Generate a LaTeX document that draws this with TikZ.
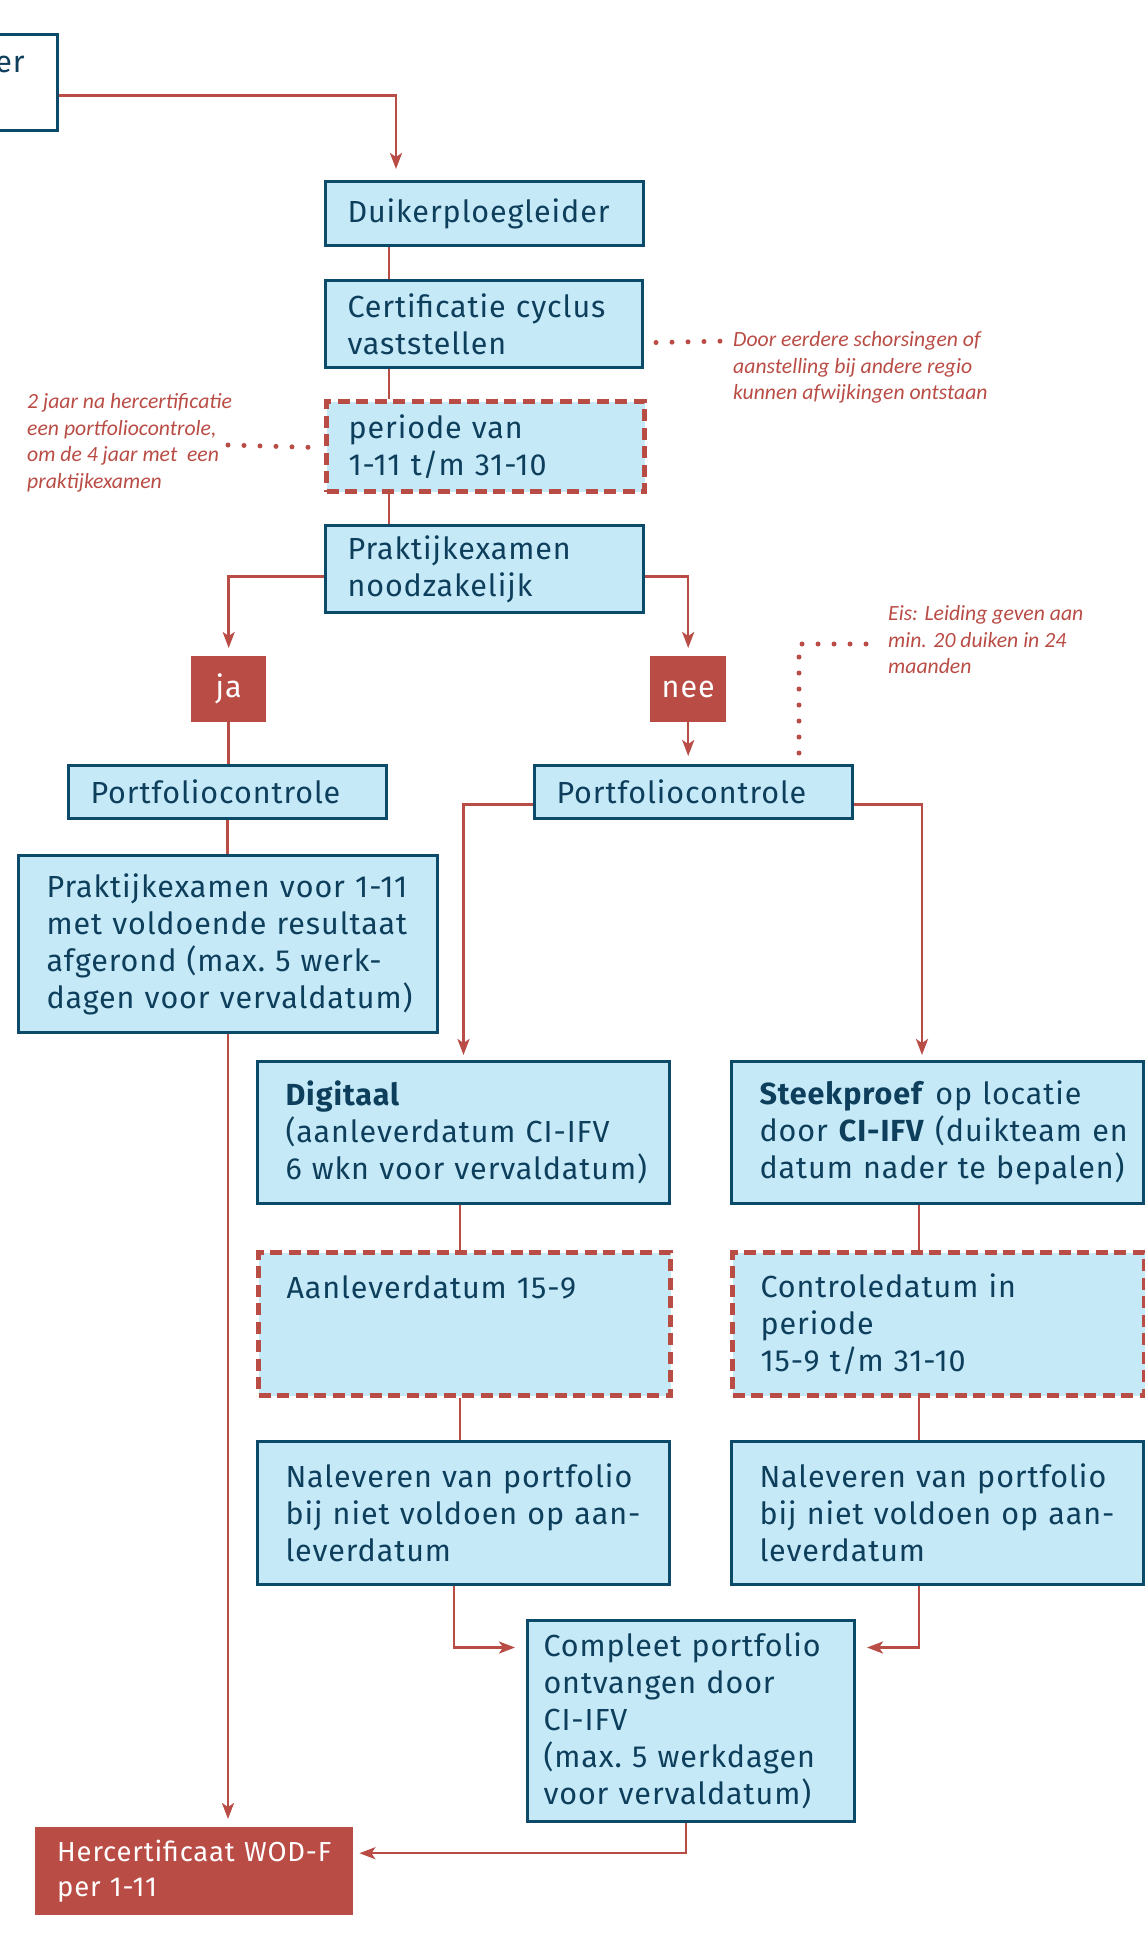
\documentclass[tikz,border=0pt]{standalone}
\usepackage{fontspec}
\setmainfont{Fira Sans}[LetterSpace=3]
\newfontfamily\notefam{Carlito}
\usetikzlibrary{arrows.meta,calc}
\definecolor{cFill}{HTML}{C6E9F8}
\definecolor{cBorder}{HTML}{0B4A68}
\definecolor{cText}{HTML}{0D3F5C}
\definecolor{cRed}{HTML}{B94C45}
\newcommand\boxfont{\fontsize{30.5}{37}\selectfont}
\newcommand\notefont{\notefam\itshape\fontsize{21.7}{26.5}\selectfont}
\tikzset{
  base/.style={anchor=north west, align=left, inner xsep=22pt, inner ysep=0pt,
    text=cText, font=\boxfont, fill=cFill,
    execute at begin node={\hyphenpenalty=10000 \exhyphenpenalty=10000 \hbadness=10000 \hfuzz=200pt}},
  bbox/.style={base, draw=cBorder, line width=3pt},
  dbox/.style={base, draw=cRed, line width=5pt, dash pattern=on 12pt off 6.5pt},
  rbox/.style={base, fill=cRed, text=white},
  conn/.style={draw=cRed, line width=2.5pt},
  arr/.style={conn, -{Stealth[length=16pt,width=12pt,inset=4pt]}, shorten >=8pt},
  dots/.style={draw=cRed, line width=5pt, line cap=round, dash pattern=on 0pt off 16pt},
  note/.style={anchor=west, align=left, text=cRed, font=\notefont, inner sep=0pt}
}
\begin{document}
\begin{tikzpicture}[x=1pt,y=-1pt]
\useasboundingbox (0,0) rectangle (1144,1933);
% top partial box
\node[draw=cBorder, line width=3pt, fill=white, minimum width=200pt, minimum height=96pt,
  anchor=north east, inner sep=0pt] (er) at (59,33) {};
\node[anchor=base east, text=cText, font=\boxfont, inner sep=0pt] (ertext) at (25,72) {er};

\node[bbox, text width=274pt, minimum height=64pt] (duiker) at (324,180) {Duikerploegleider};
\node[bbox, text width=273pt, minimum height=87pt] (cert) at (324,279) {Certificatie~cyclus\\vaststellen};
\node[dbox, text width=274pt, minimum height=90pt] (periode) at (324,399) {periode~van\\1-11~t/m~31-10};
\node[bbox, text width=274pt, minimum height=87pt] (prakt) at (324,524) {Praktijkexamen\\noodzakelijk};
\node[rbox, inner xsep=0pt, align=center, minimum width=75pt, minimum height=66pt] (ja) at (191,656) {ja};
\node[rbox, inner xsep=0pt, align=center, minimum width=76pt, minimum height=66pt] (nee) at (650,656) {nee};
\node[bbox, text width=274pt, minimum height=53pt] (pcL) at (67,764) {Portfoliocontrole};
\node[bbox, text width=274pt, minimum height=53pt] (pcR) at (533,764) {Portfoliocontrole};
\node[bbox, inner xsep=28pt, text width=363pt, minimum height=177pt] (pexam) at (17,854)
  {Praktijkexamen~voor~1-11\\met~voldoende~resultaat\\afgerond~(max.~5~werk-\\dagen~voor~vervaldatum)};
\node[bbox, inner xsep=28pt, text width=356pt, minimum height=142pt] (dig) at (256,1060)
  {\textbf{Digitaal}\\(aanleverdatum~CI-IFV\\6~wkn~voor~vervaldatum)};
\node[bbox, inner xsep=28pt, text width=356pt, minimum height=142pt] (steek) at (730,1060)
  {\textbf{Steekproef}~op~locatie\\door~\textbf{CI-IFV}~(duikteam~en\\datum~nader~te~bepalen)};
\node[dbox, inner xsep=28pt, text width=356pt, minimum height=143pt] (aanl) at (256,1250)
  {Aanleverdatum~15-9\\\mbox{}\\\mbox{}};
\node[dbox, inner xsep=28pt, text width=356pt, minimum height=143pt] (contr) at (730,1250)
  {Controledatum~in\\periode\\15-9~t/m~31-10};
\node[bbox, inner xsep=28pt, text width=356pt, minimum height=143pt] (nalL) at (256,1440)
  {Naleveren~van~portfolio\\bij~niet~voldoen~op~aan-\\leverdatum};
\node[bbox, inner xsep=28pt, text width=356pt, minimum height=143pt] (nalR) at (730,1440)
  {Naleveren~van~portfolio\\bij~niet~voldoen~op~aan-\\leverdatum};
\node[bbox, inner xsep=16pt, text width=295pt, minimum height=201pt] (compl) at (526,1619)
  {Compleet~portfolio\\ontvangen~door\\CI-IFV\\(max.~5~werkdagen\\voor~vervaldatum)};
\node[rbox, text width=274pt, minimum height=88pt, font=\fontsize{27.5}{34.5}\selectfont] (herc) at (35,1827)
  {Hercertificaat~WOD-F\\per~1-11};

% notes
\node[note] (note1) at (733,367.5) {Door eerdere schorsingen of\\aanstelling bij andere regio\\kunnen afwijkingen ontstaan};
\node[note] (note2) at (27,443) {2 jaar na hercertificatie\\een portfoliocontrole,\\om de 4 jaar met~ een\\praktijkexamen};
\node[note] (note3) at (888,640) {Eis: Leiding geven aan\\min. 20 duiken in 24\\maanden};

% connectors
\draw[arr, shorten >=11pt] ([yshift=-13pt]er.east) -| ([xshift=72pt]duiker.north west);
\draw[conn] ([xshift=65pt]duiker.south west) -- ([xshift=65pt]cert.north west);
\draw[conn] ([xshift=65pt]cert.south west) -- ([xshift=65pt]periode.north west);
\draw[conn] ([xshift=65pt]periode.south west) -- ([xshift=65pt]prakt.north west);
\draw[arr] ([yshift=-7.5pt]prakt.west) -| (ja.north);
\draw[arr] ([yshift=-7.5pt]prakt.east) -| (nee.north);
\draw[conn] (ja.south) -- (ja.south |- pcL.north);
\draw[arr] (nee.south) -- (nee.south |- pcR.north);
\draw[conn] (pcL.south) -- (pcL.south |- pexam.north);
\draw[arr] (pexam.south) -- (pexam.south |- herc.north);
\draw[arr, shorten >=5pt] ([yshift=-12.5pt]pcR.west) -| (dig.north);
\draw[arr, shorten >=5pt] ([yshift=-12.5pt]pcR.east) -| ([xshift=192pt]steek.north west);
\draw[conn] ([xshift=204pt]dig.south west) -- ([xshift=204pt]aanl.north west);
\draw[conn] ([xshift=204pt]aanl.south west) -- ([xshift=204pt]nalL.north west);
\draw[conn] ([xshift=189pt]steek.south west) -- ([xshift=189pt]contr.north west);
\draw[conn] ([xshift=189pt]contr.south west) -- ([xshift=189pt]nalR.north west);
\draw[arr, shorten >=11pt] ([xshift=198pt]nalL.south west) |- ([yshift=73.5pt]compl.west);
\draw[arr, shorten >=11pt] ([xshift=189pt]nalR.south west) |- ([yshift=73.5pt]compl.east);
\draw[arr, shorten >=6pt] ([xshift=160pt]compl.south west) |- ([yshift=18pt]herc.east);

% dotted leaders
\coordinate (d1e) at (727,341);
\draw[dots] ([xshift=12pt,yshift=-18.5pt]cert.east) -- (d1e);
\coordinate (d2s) at (228,445);
\draw[dots] (d2s) -- ([xshift=-8pt,yshift=-1pt]periode.west);
\coordinate (d3e) at (869,644);
\draw[dots] ([xshift=266pt,yshift=11pt]pcR.north west) |- (d3e);
\end{tikzpicture}
\end{document}
